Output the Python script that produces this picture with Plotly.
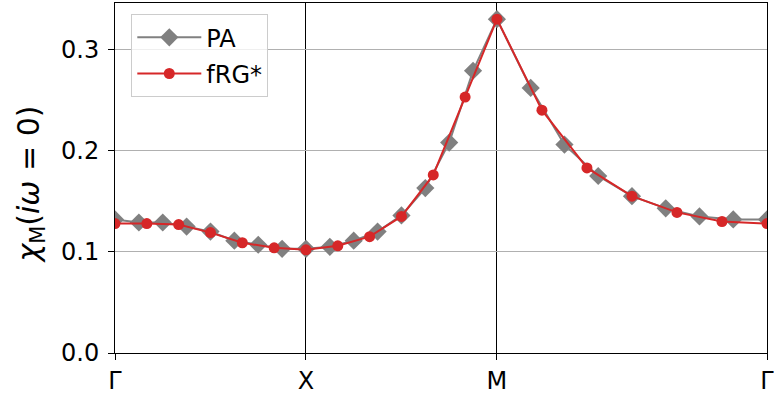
import numpy as np
import plotly.graph_objects as go

# High-symmetry path Γ -> X -> M -> Γ (path length in units of π)
path_labels = ["Γ", "X", "M", "Γ"]
path_nodes = [0.0, 1.0, 2.0, 2.0 + np.sqrt(2.0)]

# Momentum grids along the path (PA: 8 steps per segment, fRG*: 6 steps per segment)
def path_grid(nodes, steps):
    pts = [nodes[0]]
    for a, b in zip(nodes[:-1], nodes[1:]):
        pts.extend(np.linspace(a, b, steps + 1)[1:].tolist())
    return pts

k_pa = path_grid(path_nodes, 8)
k_frg = path_grid(path_nodes, 6)

# Static magnetic susceptibility chi_M(i omega = 0)
chi_pa = [0.132, 0.129, 0.129, 0.125, 0.120, 0.111, 0.107, 0.103, 0.103,
          0.105, 0.111, 0.120, 0.136, 0.163, 0.208, 0.279, 0.330,
          0.262, 0.206, 0.175, 0.155, 0.143, 0.135, 0.132, 0.132]
chi_frg = [0.128, 0.128, 0.127, 0.119, 0.109, 0.104, 0.102,
           0.106, 0.115, 0.135, 0.176, 0.253, 0.330,
           0.240, 0.183, 0.155, 0.139, 0.130, 0.128]

FONT = "DejaVu Sans"

fig = go.Figure()
fig.add_trace(go.Scatter(
    x=k_pa, y=chi_pa, name="PA", mode="lines+markers", legendgroup="pa",
    line=dict(color="#808080", width=2),
    marker=dict(symbol="diamond", size=14, color="#808080"),
))
fig.add_trace(go.Scatter(
    x=k_frg, y=chi_frg, name="fRG*", mode="lines+markers", legendgroup="frg",
    line=dict(color="#d62728", width=2),
    marker=dict(symbol="circle", size=11, color="#d62728"),
))

fig.update_layout(
    width=774, height=394,
    margin=dict(l=115, r=7, t=3, b=41, autoexpand=False),
    paper_bgcolor="white", plot_bgcolor="white",
    font=dict(family=FONT, size=24, color="black"),
    showlegend=True,
    legend=dict(
        x=0.025, y=0.968, xanchor="left", yanchor="top",
        bgcolor="rgba(255,255,255,0.8)", bordercolor="#cccccc", borderwidth=1,
        font=dict(family=FONT, size=24, color="black"),
        itemwidth=64, tracegroupgap=2,
    ),
)

fig.update_xaxes(
    range=[path_nodes[0], path_nodes[-1]],
    tickmode="array", tickvals=path_nodes, ticktext=path_labels,
    showgrid=True, gridcolor="black", gridwidth=1,
    showline=True, linecolor="black", linewidth=1, mirror=True,
    ticks="outside", ticklen=6, tickcolor="black",
    ticklabeloverflow="allow", automargin=False,
    zeroline=False,
)
fig.update_yaxes(
    range=[0, 0.346],
    tickmode="array", tickvals=[0.0, 0.1, 0.2, 0.3], tickformat=".1f",
    showgrid=True, gridcolor="#b0b0b0", gridwidth=1,
    showline=True, linecolor="black", linewidth=1, mirror=True,
    ticks="outside", ticklen=6, tickcolor="black",
    ticklabelstandoff=4, automargin=False,
    zeroline=False,
)

fig.add_annotation(
    text="<i>χ</i><sub>M</sub>(<i>iω</i> = 0)",
    xref="paper", yref="paper", x=-0.131, y=0.48,
    xanchor="center", yanchor="middle", textangle=-90,
    showarrow=False, font=dict(family=FONT, size=30, color="black"),
)

fig.write_html("out.html")
